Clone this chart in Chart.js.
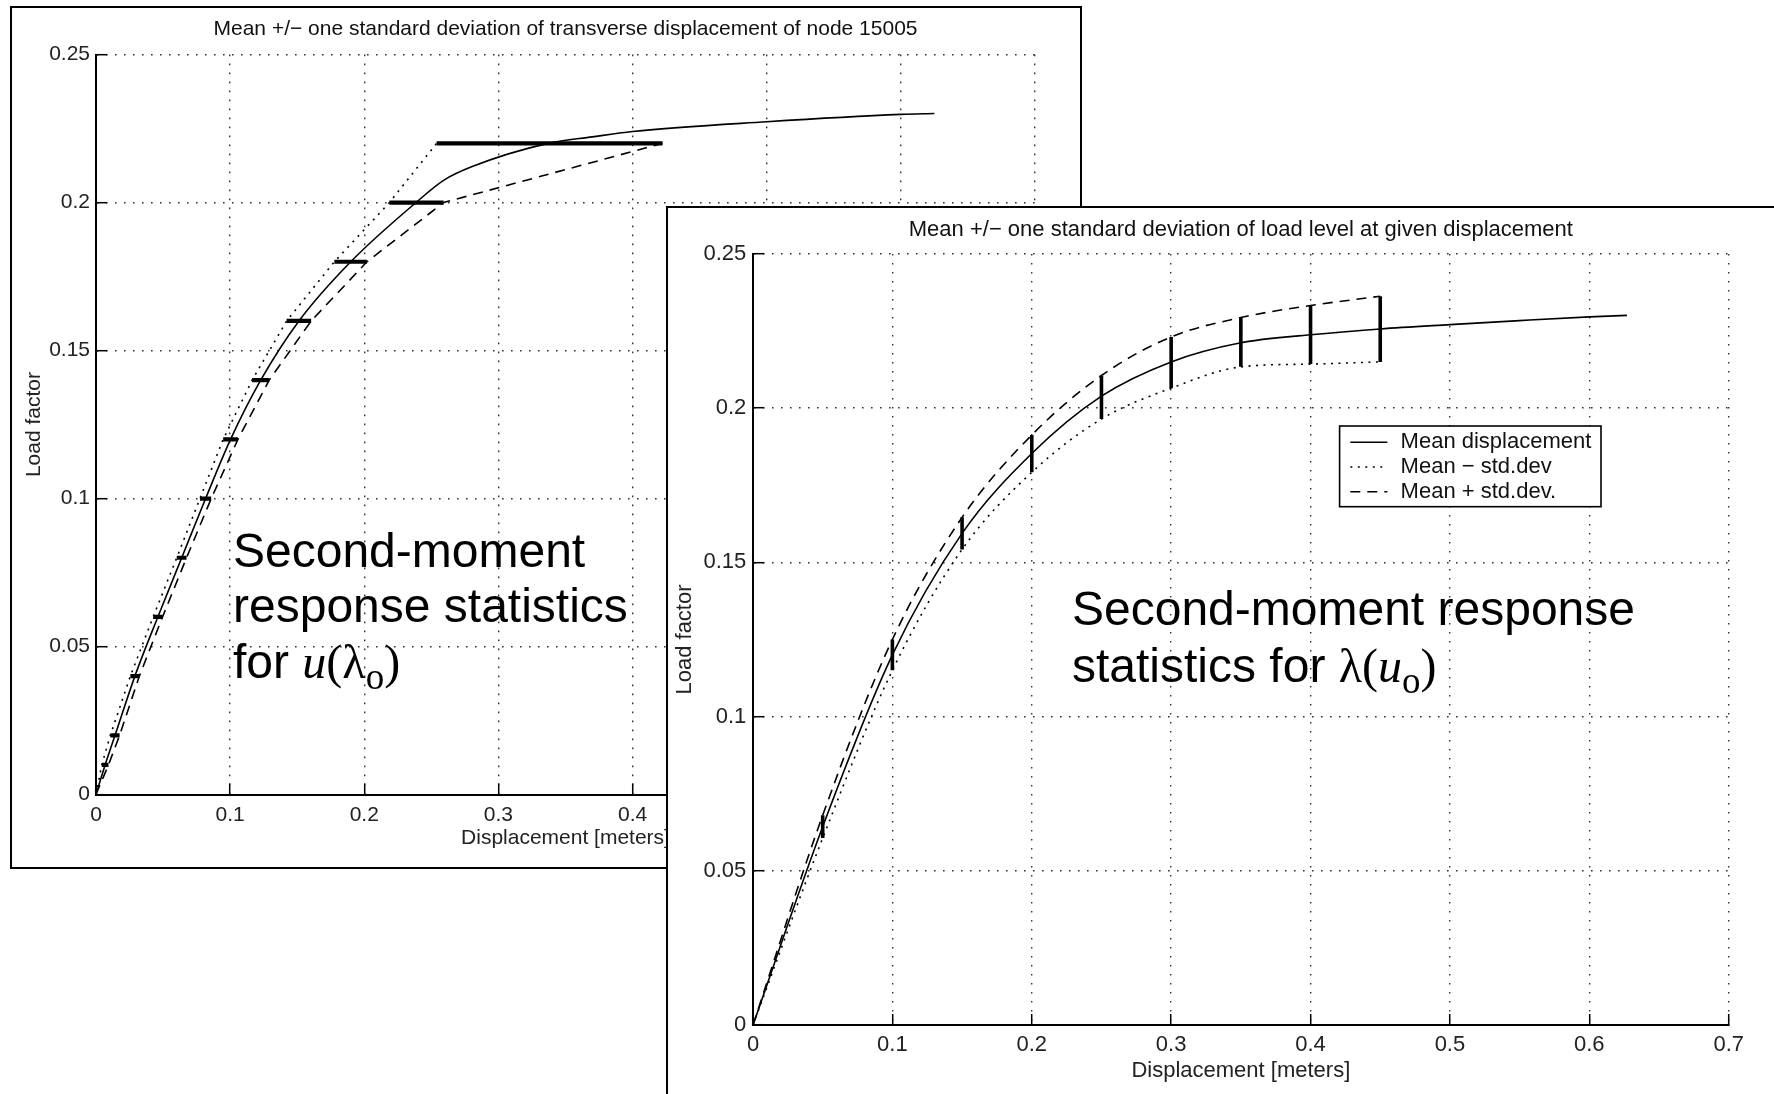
<!DOCTYPE html>
<html>
<head>
<meta charset="utf-8">
<script src="https://cdn.jsdelivr.net/npm/chart.js@4.4.1/dist/chart.umd.min.js"></script>
<style>
html,body{margin:0;padding:0;background:#fff;overflow:hidden;width:1774px;height:1094px;}
.panel{position:absolute;background:#fff;border:2px solid #000;}
#leftPanel{left:10px;top:6px;width:1068px;height:859px;}
#rightPanel{left:666px;top:206px;width:1200px;height:1000px;}
.panel canvas{position:absolute;left:0;top:0;}
.note{position:absolute;font-family:"Liberation Sans",Arial,Helvetica,sans-serif;font-size:48px;color:#000;white-space:nowrap;}
.serif{font-family:"Liberation Serif","Times New Roman",serif;}
.sub{font-family:"Liberation Serif","Times New Roman",serif;font-size:37px;position:relative;top:11px;line-height:0;}
</style>
</head>
<body>
<div class="panel" id="leftPanel"><canvas id="leftChart" width="1068" height="859"></canvas></div>
<div class="note" id="noteLeft" style="left:233px;top:523px;line-height:55.4px;">Second-moment<br>response statistics<br>for <span class="serif"><i>u</i>(λ<span class="sub">o</span>)</span></div>
<div class="panel" id="rightPanel"><canvas id="rightChart" width="1106" height="886"></canvas></div>
<div class="note" id="noteRight" style="left:1072px;top:581px;line-height:56.7px;">Second-moment response<br>statistics for <span class="serif">λ(<i>u</i><span class="sub">o</span>)</span></div>

<script>
// ---------- Left chart: mean +/- std of displacement at given load level ----------
const leftTitle = 'Mean +/\u2212 one standard deviation of transverse displacement of node 15005';
const leftLoadLevels    = [0.01, 0.02, 0.04, 0.06, 0.08, 0.10, 0.12, 0.14, 0.16, 0.18, 0.20, 0.22];
const leftDispMinusStd  = [0.0043, 0.0107, 0.0256, 0.0426, 0.0602, 0.0775, 0.0948, 0.1164, 0.1421, 0.1777, 0.2187, 0.2539];
const leftDispPlusStd   = [0.0093, 0.0176, 0.0323, 0.0496, 0.0675, 0.0859, 0.1058, 0.1291, 0.1604, 0.2020, 0.2591, 0.4223];
const leftMeanDisp = [0, 0.0068, 0.0142, 0.0290, 0.0461, 0.0639, 0.0817, 0.1003, 0.1228, 0.1513, 0.1899, 0.2385, 0.2594, 0.2800, 0.3370, 0.3700, 0.4000, 0.5000, 0.6000, 0.6250];
const leftMeanLoad = [0, 0.01, 0.02, 0.04, 0.06, 0.08, 0.10, 0.12, 0.14, 0.16, 0.18, 0.20, 0.2076, 0.2121, 0.2200, 0.2222, 0.2240, 0.2273, 0.2298, 0.2301];

// ---------- Right chart: mean +/- std of load level at given displacement ----------
const rightTitle = 'Mean +/\u2212 one standard deviation of load level at given displacement';
const rightDispLevels   = [0.05, 0.10, 0.15, 0.20, 0.25, 0.30, 0.35, 0.40, 0.45];
const rightLoadMinusStd = [0.0606, 0.1150, 0.1542, 0.1792, 0.1965, 0.2065, 0.2134, 0.2143, 0.2150];
const rightLoadPlusStd  = [0.0680, 0.1250, 0.1646, 0.1913, 0.2106, 0.2231, 0.2294, 0.2333, 0.2363];
const rightMeanDisp = [0, 0.05, 0.10, 0.15, 0.20, 0.25, 0.30, 0.35, 0.40, 0.45, 0.50, 0.55, 0.60, 0.627];
const rightMeanLoad = [0, 0.0643, 0.1200, 0.1594, 0.1853, 0.2039, 0.2150, 0.2212, 0.2238, 0.2257, 0.2271, 0.2284, 0.2296, 0.2301];

// ---------- shared labels / ticks ----------
const xAxisTitle = 'Displacement [meters]';
const yAxisTitle = 'Load factor';
const xTickRange = [0, 0.7], xTickStep = 0.1;
const yTickRange = [0, 0.25], yTickStep = 0.05;
const seriesNames = ['Mean displacement', 'Mean \u2212 std.dev', 'Mean + std.dev.'];

const FONT = '"Liberation Sans", Arial, Helvetica, sans-serif';
Chart.defaults.font.family = FONT;
Chart.defaults.color = '#222';

function pts(xs, ys) { return xs.map((x, i) => ({x: x, y: ys[i]})); }
function hBars(levels, lo, hi) {
  const d = [];
  levels.forEach((l, i) => { d.push({x: lo[i], y: l}, {x: hi[i], y: l}, {x: hi[i], y: null}); });
  return d;
}
function vBars(levels, lo, hi) {
  const d = [];
  levels.forEach((l, i) => { d.push({x: l, y: lo[i]}, {x: l, y: hi[i]}, {x: l, y: null}); });
  return d;
}
function matlabTick(v) { return String(+Number(v).toFixed(4)); }

const boxLegendPlugin = {
  id: 'boxLegend',
  afterDatasetsDraw(chart, args, opts) {
    if (!opts || !opts.display) return;
    const ctx = chart.ctx, ca = chart.chartArea;
    const x = ca.left + opts.offsetX, y = ca.top + opts.offsetY;
    ctx.save();
    ctx.fillStyle = '#fff';
    ctx.fillRect(x, y, opts.width, opts.height);
    ctx.lineWidth = 1.6; ctx.strokeStyle = '#000'; ctx.setLineDash([]);
    ctx.strokeRect(x, y, opts.width, opts.height);
    ctx.font = opts.fontSize + 'px ' + FONT;
    ctx.textBaseline = 'middle'; ctx.textAlign = 'left';
    const items = chart.data.datasets.filter(d => d.inLegend);
    items.forEach((d, i) => {
      const cy = y + opts.firstRow + i * opts.rowGap;
      ctx.beginPath();
      ctx.setLineDash(d.borderDash || []);
      ctx.lineWidth = d.borderWidth; ctx.strokeStyle = d.borderColor;
      ctx.moveTo(x + opts.sampleStart, cy); ctx.lineTo(x + opts.sampleEnd, cy);
      ctx.stroke();
      ctx.setLineDash([]);
      ctx.fillStyle = '#111';
      ctx.fillText(d.label, x + opts.textStart, cy);
    });
    ctx.restore();
  }
};

function makeChart(id, o) {
  const fs = o.fontSize;
  return new Chart(document.getElementById(id), {
    type: 'line',
    data: {datasets: o.datasets},
    options: {
      responsive: false, animation: false, devicePixelRatio: 1,
      layout: {padding: {left: 0, top: 0, right: o.padRight, bottom: 0}},
      elements: {point: {radius: 0, hoverRadius: 0}},
      plugins: {
        legend: {display: false}, tooltip: {enabled: false},
        title: {display: true, text: o.title, fullSize: false, color: '#111',
                font: {size: fs, weight: 'normal'}, padding: {top: o.titleTop, bottom: o.titleBottom}},
        boxLegend: o.legend || {display: false}
      },
      scales: {
        x: {
          type: 'linear', min: xTickRange[0], max: xTickRange[1],
          ticks: {stepSize: xTickStep, padding: o.xTickPad, color: '#222', font: {size: fs}, maxRotation: 0, autoSkip: false, callback: matlabTick},
          grid: {color: '#333', lineWidth: 1.4, drawTicks: true, tickLength: -11, tickColor: '#000', tickWidth: 1.5},
          border: {display: true, color: '#000', width: 2, dash: [1.6, 7.4]},
          title: {display: true, text: xAxisTitle, color: '#222', font: {size: fs}, padding: {top: 0, bottom: o.xTitlePad}},
          afterFit(s) { s.height = o.xHeight; }
        },
        y: {
          type: 'linear', min: yTickRange[0], max: yTickRange[1],
          ticks: {stepSize: yTickStep, padding: o.yTickPad, color: '#222', font: {size: fs}, callback: matlabTick},
          grid: {color: '#333', lineWidth: 1.4, drawTicks: true, tickLength: -11, tickColor: '#000', tickWidth: 1.5},
          border: {display: true, color: '#000', width: 2, dash: [1.6, 7.4]},
          title: {display: true, text: yAxisTitle, color: '#222', font: {size: fs}, padding: {top: o.yTitlePad, bottom: 0}},
          afterFit(s) { s.width = o.yWidth; }
        }
      }
    },
    plugins: [boxLegendPlugin]
  });
}

const dotted = [2, 5.5], dashed = [10, 7];

makeChart('leftChart', {
  title: leftTitle, fontSize: 21, padRight: 45, titleTop: 9, titleBottom: 12.4,
  xTickPad: 19.4, xTitlePad: 16.4, xHeight: 72.5,
  yTickPad: 17, yTitlePad: 9.9, yWidth: 84,
  datasets: [
    {label: 'Std.dev bars', data: hBars(leftLoadLevels, leftDispMinusStd, leftDispPlusStd),
     borderColor: '#000', borderWidth: 4.2, spanGaps: false, tension: 0, inLegend: false},
    {label: seriesNames[0], data: pts(leftMeanDisp, leftMeanLoad), borderColor: '#000', borderWidth: 1.6,
     cubicInterpolationMode: 'monotone', inLegend: true},
    {label: seriesNames[1], data: pts([0].concat(leftDispMinusStd), [0].concat(leftLoadLevels)), borderColor: '#000',
     borderWidth: 1.6, borderDash: dotted, tension: 0, inLegend: true},
    {label: seriesNames[2], data: pts([0].concat(leftDispPlusStd), [0].concat(leftLoadLevels)), borderColor: '#000',
     borderWidth: 1.6, borderDash: dashed, tension: 0, inLegend: true}
  ]
});

makeChart('rightChart', {
  title: rightTitle, fontSize: 22, padRight: 45.3, titleTop: 8.4, titleBottom: 11.2,
  xTickPad: 17.8, xTitlePad: 9.8, xHeight: 69,
  yTickPad: 17.7, yTitlePad: 3.8, yWidth: 85,
  legend: {display: true, offsetX: 586.6, offsetY: 172, width: 261.4, height: 80.7, fontSize: 22,
           firstRow: 16.3, rowGap: 24.7, sampleStart: 10.7, sampleEnd: 47.7, textStart: 61},
  datasets: [
    {label: 'Std.dev bars', data: vBars(rightDispLevels, rightLoadMinusStd, rightLoadPlusStd),
     borderColor: '#000', borderWidth: 3.6, spanGaps: false, tension: 0, inLegend: false},
    {label: seriesNames[0], data: pts(rightMeanDisp, rightMeanLoad), borderColor: '#000', borderWidth: 1.6,
     cubicInterpolationMode: 'monotone', inLegend: true},
    {label: seriesNames[1], data: pts([0].concat(rightDispLevels), [0].concat(rightLoadMinusStd)), borderColor: '#000',
     borderWidth: 1.6, borderDash: dotted, cubicInterpolationMode: 'monotone', inLegend: true},
    {label: seriesNames[2], data: pts([0].concat(rightDispLevels), [0].concat(rightLoadPlusStd)), borderColor: '#000',
     borderWidth: 1.6, borderDash: dashed, cubicInterpolationMode: 'monotone', inLegend: true}
  ]
});
</script>
</body>
</html>
